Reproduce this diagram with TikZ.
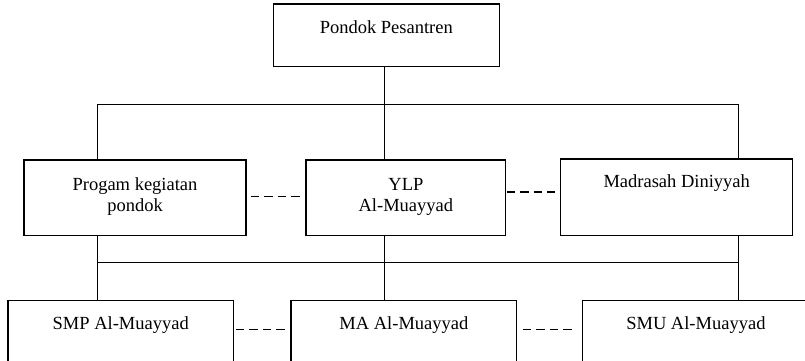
\documentclass[tikz,border=0pt]{standalone}
\usepackage{fontspec}
\setmainfont{Liberation Serif}
\begin{document}
\begin{tikzpicture}[x=1pt,y=-1pt,
  box/.style={draw=black,line width=1.4pt,inner sep=0pt,outer sep=0pt},
  lowbox/.style={draw=black,line width=1.2pt,inner sep=0pt,outer sep=0pt},
  lbl/.style={inner sep=0pt,anchor=base,font=\fontsize{18.5}{21}\selectfont},
  conn/.style={draw=black,line width=1pt},
  dashconn/.style={draw=black,line width=1.2pt,dash pattern=on 8.5pt off 5pt}]
\useasboundingbox (0,0) rectangle (805,361);
\clip (0,0) rectangle (805,361);
\fill[white] (0,0) rectangle (805,361);
% boxes
\node[box,minimum width=226pt,minimum height=62.7pt] (top) at (386.3,35.4) {};
\node[box,minimum width=222pt,minimum height=75.7pt] (p1) at (135,197.9) {};
\node[box,minimum width=199.7pt,minimum height=75.7pt] (p2) at (405.9,197.9) {};
\node[box,minimum width=232pt,minimum height=76.3pt] (p3) at (676.7,197.2) {};
\node[lowbox,minimum width=225.3pt,minimum height=100pt] (s1) at (120.7,350.7) {};
\node[lowbox,minimum width=225.7pt,minimum height=100pt] (s2) at (403.9,350.7) {};
\node[lowbox,minimum width=226.3pt,minimum height=100pt] (s3) at (695.9,350.7) {};
% texts
\node[lbl] (ttop) at (386.3,33.3) {Pondok Pesantren};
\node[lbl] (tp1a) at (135,190) {Progam kegiatan};
\node[lbl] (tp1b) at (135,211) {pondok};
\node[lbl] (tp2a) at (405.9,190) {YLP};
\node[lbl] (tp2b) at (405.9,211) {Al-Muayyad};
\node[lbl] (tp3) at (676.7,187.3) {Madrasah Diniyyah};
\node[lbl] (ts1) at (120.7,329) {SMP Al-Muayyad};
\node[lbl] (ts2) at (403.9,329) {MA Al-Muayyad};
\node[lbl] (ts3) at (695.9,329) {SMU Al-Muayyad};
% bus coordinates
\coordinate (bL1) at (97,104);
\coordinate (bM1) at (384.5,104);
\coordinate (bR1) at (738.3,104);
\coordinate (bL2) at (97,262.7);
\coordinate (bM2) at (384.8,262.7);
\coordinate (bR2) at (738.3,262.7);
% upper connectors
\draw[conn] (top.south -| bM1) -- (bM1);
\draw[conn] (bL1) -- (bR1);
\draw[conn] (bL1) -- (p1.north -| bL1);
\draw[conn] (bM1) -- (p2.north -| bM1);
\draw[conn] (bR1) -- (p3.north -| bR1);
% lower connectors
\draw[conn] (bL2) -- (bR2);
\draw[conn] (p1.south -| bL2) -- (s1.north -| bL2);
\draw[conn] (p2.south -| bM2) -- (s2.north -| bM2);
\draw[conn] (p3.south -| bR2) -- (s3.north -| bR2);
% dashed links
\coordinate (d1) at (0,196.3);
\coordinate (d2) at (0,192);
\coordinate (d3) at (0,329.3);
\draw[dashconn,shorten <=4.7pt,shorten >=4.3pt] (p1.east |- d1) -- (p2.west |- d1);
\draw[dashconn,shorten <=1pt,shorten >=5.7pt] (p2.east |- d2) -- (p3.west |- d2);
\draw[dashconn,shorten <=2.4pt,shorten >=6pt] (s1.east |- d3) -- (s2.west |- d3);
\draw[dashconn,shorten <=6pt,shorten >=11pt] (s2.east |- d3) -- (s3.west |- d3);
\end{tikzpicture}
\end{document}
